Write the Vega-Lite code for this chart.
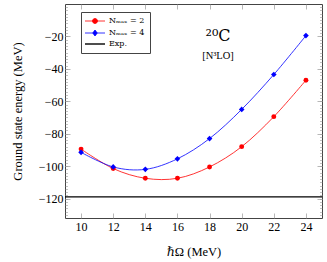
{
  "$schema": "https://vega.github.io/schema/vega-lite/v6.json",
  "width": 257,
  "height": 214,
  "autosize": "none",
  "padding": {"left": 65, "top": 4, "right": 5, "bottom": 44},
  "background": "white",
  "title": {
    "text": "²⁰C",
    "subtitle": "[N³LO]",
    "font": "DejaVu Serif",
    "subtitleFont": "'Liberation Serif', 'DejaVu Serif', serif",
    "fontSize": 16,
    "fontWeight": "normal",
    "subtitleFontSize": 10.5,
    "subtitlePadding": 7,
    "subtitleColor": "black",
    "color": "black",
    "anchor": "middle",
    "frame": "group",
    "orient": "top",
    "dx": 24.5,
    "offset": -58
  },
  "datasets": {
    "calc": [
      {"hw": 10, "E": -89.5, "series": "Nₘₐₓ = 2"},
      {"hw": 12, "E": -101.5, "series": "Nₘₐₓ = 2"},
      {"hw": 14, "E": -107.5, "series": "Nₘₐₓ = 2"},
      {"hw": 16, "E": -107.5, "series": "Nₘₐₓ = 2"},
      {"hw": 18, "E": -100.5, "series": "Nₘₐₓ = 2"},
      {"hw": 20, "E": -88, "series": "Nₘₐₓ = 2"},
      {"hw": 22, "E": -69.5, "series": "Nₘₐₓ = 2"},
      {"hw": 24, "E": -47, "series": "Nₘₐₓ = 2"},
      {"hw": 10, "E": -91.5, "series": "Nₘₐₓ = 4"},
      {"hw": 12, "E": -100.5, "series": "Nₘₐₓ = 4"},
      {"hw": 14, "E": -102, "series": "Nₘₐₓ = 4"},
      {"hw": 16, "E": -95.5, "series": "Nₘₐₓ = 4"},
      {"hw": 18, "E": -83, "series": "Nₘₐₓ = 4"},
      {"hw": 20, "E": -65, "series": "Nₘₐₓ = 4"},
      {"hw": 22, "E": -43.5, "series": "Nₘₐₓ = 4"},
      {"hw": 24, "E": -19.5, "series": "Nₘₐₓ = 4"}
    ],
    "exp": [
      {"series": "Exp.", "E": -119}
    ]
  },
  "resolve": {"axis": {"x": "independent", "y": "independent"}},
  "layer": [
    {
      "data": {"name": "calc"},
      "mark": {"type": "line", "interpolate": "cardinal", "strokeWidth": 0.8},
      "encoding": {
        "x": {"field": "hw", "type": "quantitative", "scale": {"domain": [9, 25], "nice": false, "zero": false},
              "axis": {"orient": "bottom", "values": [10,12,14,16,18,20,22,24], "title": "ℏΩ (MeV)", "tickSize": -5, "tickColor": "#999", "tickWidth": 0.7,
                       "domain": false, "grid": false, "labelPadding": 8, "labelFont": "'Liberation Serif', 'DejaVu Serif', serif", "titleFont": "'Liberation Serif', 'DejaVu Serif', serif", "labelFontSize": 12, "titleFontSize": 12.5, "titleFontWeight": "normal", "titlePadding": 13, "labelColor": "black", "titleColor": "black"}},
        "y": {"field": "E", "type": "quantitative", "scale": {"domain": [-132, 0], "nice": false, "zero": false},
              "axis": {"orient": "left", "values": [-120,-100,-80,-60,-40,-20], "title": "Ground state energy (MeV)", "tickSize": -5, "tickColor": "#999", "tickWidth": 0.7,
                       "domain": false, "grid": false, "labelPadding": 7, "labelFont": "'Liberation Serif', 'DejaVu Serif', serif", "titleFont": "'Liberation Serif', 'DejaVu Serif', serif", "labelFontSize": 12, "titleFontSize": 12.5, "titleFontWeight": "normal", "titlePadding": 14, "labelColor": "black", "titleColor": "black"}},
        "color": {"field": "series", "type": "nominal",
                  "scale": {"domain": ["Nₘₐₓ = 2", "Nₘₐₓ = 4", "Exp."], "range": ["#ff0000", "#0000ff", "#000000"]},
                  "legend": {
                    "title": null,
                    "orient": "none",
                    "legendX": 16,
                    "legendY": 8,
                    "padding": 5,
                    "strokeColor": "#444",
                    "fillColor": "white",
                    "symbolSize": 100,
                    "labelOffset": 15,
                    "labelFont": "DejaVu Serif",
                    "labelFontSize": 8,
                    "labelColor": "black",
                    "rowPadding": 2,
                    "encode": {
                      "symbols": {
                        "update": {
                          "shape": {"signal": "datum.index === 0 ? 'M-1,0H3M1.5,0A0.5,0.5 0 1,1 0.5,0A0.5,0.5 0 1,1 1.5,0Z' : datum.index === 1 ? 'M-1,0H3M1,-0.6L1.45,0L1,0.6L0.55,0Z' : 'M-1,0H3'"},
                          "fill": {"signal": "scale('color', datum.value)"},
                          "stroke": {"signal": "scale('color', datum.value)"},
                          "strokeWidth": {"signal": "datum.index === 2 ? 1.4 : 0.8"},
                          "opacity": {"value": 1}
                        }
                      }
                    }
                  }}
      }
    },
    {
      "data": {"name": "exp"},
      "mark": {"type": "rule", "strokeWidth": 1.2},
      "encoding": {
        "y": {"field": "E", "type": "quantitative",
              "axis": {"orient": "right", "values": [-130,-128,-126,-124,-122,-120,-118,-116,-114,-112,-110,-108,-106,-104,-102,-100,-98,-96,-94,-92,-90,-88,-86,-84,-82,-80,-78,-76,-74,-72,-70,-68,-66,-64,-62,-60,-58,-56,-54,-52,-50,-48,-46,-44,-42,-40,-38,-36,-34,-32,-30,-28,-26,-24,-22,-20,-18,-16,-14,-12,-10,-8,-6,-4,-2],
                       "labels": false, "tickSize": -2.5, "title": null, "domain": false, "grid": false, "tickColor": "#999", "tickWidth": 0.6}},
        "color": {"field": "series", "type": "nominal"}
      }
    },
    {
      "data": {"name": "calc"},
      "transform": [{"filter": "datum.series === 'Nₘₐₓ = 2'"}],
      "mark": {"type": "point", "shape": "circle", "filled": true, "size": 24, "opacity": 1},
      "encoding": {
        "x": {"field": "hw", "type": "quantitative",
              "axis": {"orient": "top", "values": [10,12,14,16,18,20,22,24], "labels": false, "title": null, "tickSize": -5, "tickColor": "#999", "tickWidth": 0.7, "domain": false, "grid": false}},
        "y": {"field": "E", "type": "quantitative",
              "axis": {"orient": "right", "values": [-120,-100,-80,-60,-40,-20], "labels": false, "title": null, "tickSize": -5, "tickColor": "#999", "tickWidth": 0.7, "domain": false, "grid": false}},
        "color": {"field": "series", "type": "nominal"}
      }
    },
    {
      "data": {"name": "calc"},
      "transform": [{"filter": "datum.series === 'Nₘₐₓ = 4'"}],
      "mark": {"type": "point", "shape": "diamond", "filled": true, "size": 32, "opacity": 1},
      "encoding": {
        "x": {"field": "hw", "type": "quantitative", "axis": null},
        "y": {"field": "E", "type": "quantitative",
              "axis": {"orient": "left", "values": [-130,-128,-126,-124,-122,-120,-118,-116,-114,-112,-110,-108,-106,-104,-102,-100,-98,-96,-94,-92,-90,-88,-86,-84,-82,-80,-78,-76,-74,-72,-70,-68,-66,-64,-62,-60,-58,-56,-54,-52,-50,-48,-46,-44,-42,-40,-38,-36,-34,-32,-30,-28,-26,-24,-22,-20,-18,-16,-14,-12,-10,-8,-6,-4,-2],
                       "labels": false, "tickSize": -2.5, "title": null, "domain": false, "grid": false, "tickColor": "#999", "tickWidth": 0.6}},
        "color": {"field": "series", "type": "nominal"}
      }
    }
  ],
  "config": {
    "font": "'Liberation Serif', 'DejaVu Serif', serif",
    "view": {"stroke": "#444", "strokeWidth": 1}
  }
}
